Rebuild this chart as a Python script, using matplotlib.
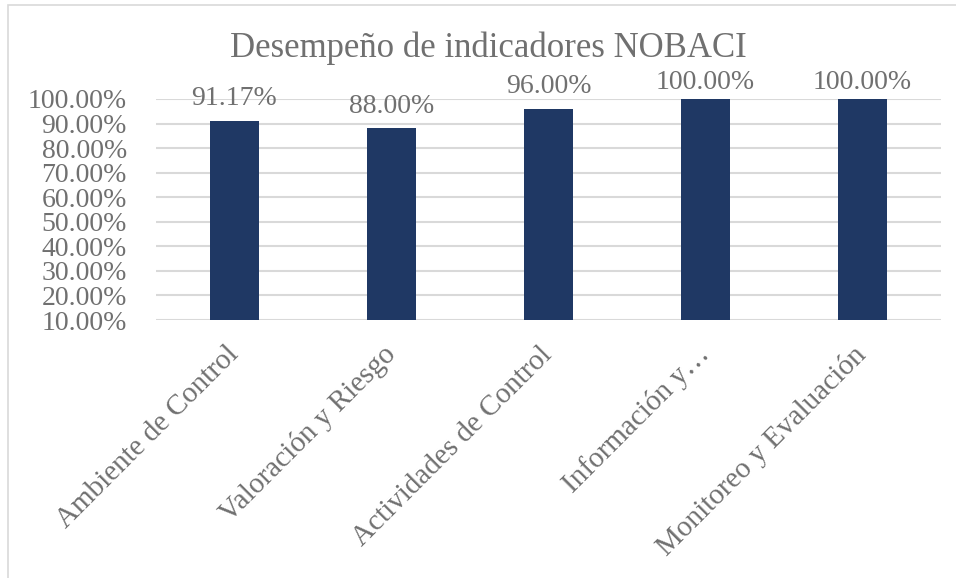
import matplotlib
matplotlib.use("Agg")
import matplotlib.pyplot as plt
from matplotlib.patches import Rectangle
from matplotlib.ticker import FuncFormatter

categories = ["Ambiente de Control", "Valoración y Riesgo", "Actividades de Control",
              "Información y…", "Monitoreo y Evaluación"]
values = [0.9117, 0.88, 0.96, 1.00, 1.00]
yticks = [0.1, 0.2, 0.3, 0.4, 0.5, 0.6, 0.7, 0.8, 0.9, 1.0]
title = "Desempeño de indicadores NOBACI"

BAR = "#1F3864"
GRID = "#D9D9D9"
TXT = "#707070"

plt.rcParams["font.family"] = ["Liberation Serif", "DejaVu Serif"]

W, H = 956, 578
fig = plt.figure(figsize=(W / 100, H / 100), dpi=100)

# chart border (only left and top edges fall inside the image)
fig.patches.append(Rectangle((8 / W, -0.1), 1.2, (578 - 5) / H + 0.1,
                             transform=fig.transFigure, fill=False,
                             edgecolor=GRID, linewidth=1.2))

ax = fig.add_axes([156 / W, 258 / H, 785 / W, 221 / H])
x = range(len(categories))
ax.bar(x, values, width=0.31, color=BAR, zorder=3)

ax.set_ylim(0.1, 1.0)
ax.set_xlim(-0.5, len(categories) - 0.5)
ax.set_yticks(yticks)
ax.yaxis.set_major_formatter(FuncFormatter(lambda v, p: f"{v * 100:.2f}%"))
ax.grid(axis="y", color=GRID, linewidth=1.5, zorder=0)
for s in ax.spines.values():
    s.set_visible(False)
ax.tick_params(axis="y", length=0, pad=21, labelsize=20, labelcolor=TXT)
ax.tick_params(axis="x", length=0, pad=22, labelsize=21, labelcolor=TXT)

ax.set_xticks(list(x))
ax.set_xticklabels(categories, rotation=45, ha="right", va="center",
                   rotation_mode="anchor")

# data labels; the ones at the top get pushed down to stay inside the chart
for xi, v in zip(x, values):
    off = 7 if v < 0.97 else 3
    ax.annotate(f"{v * 100:.2f}%", (xi, v), xytext=(0, off), textcoords="offset points",
                ha="center", va="bottom", fontsize=20, color=TXT)

fig.text(488 / W, 1 - 48 / H, title, ha="center", va="center", fontsize=25, color=TXT)

fig.savefig("out.png", dpi=100)
